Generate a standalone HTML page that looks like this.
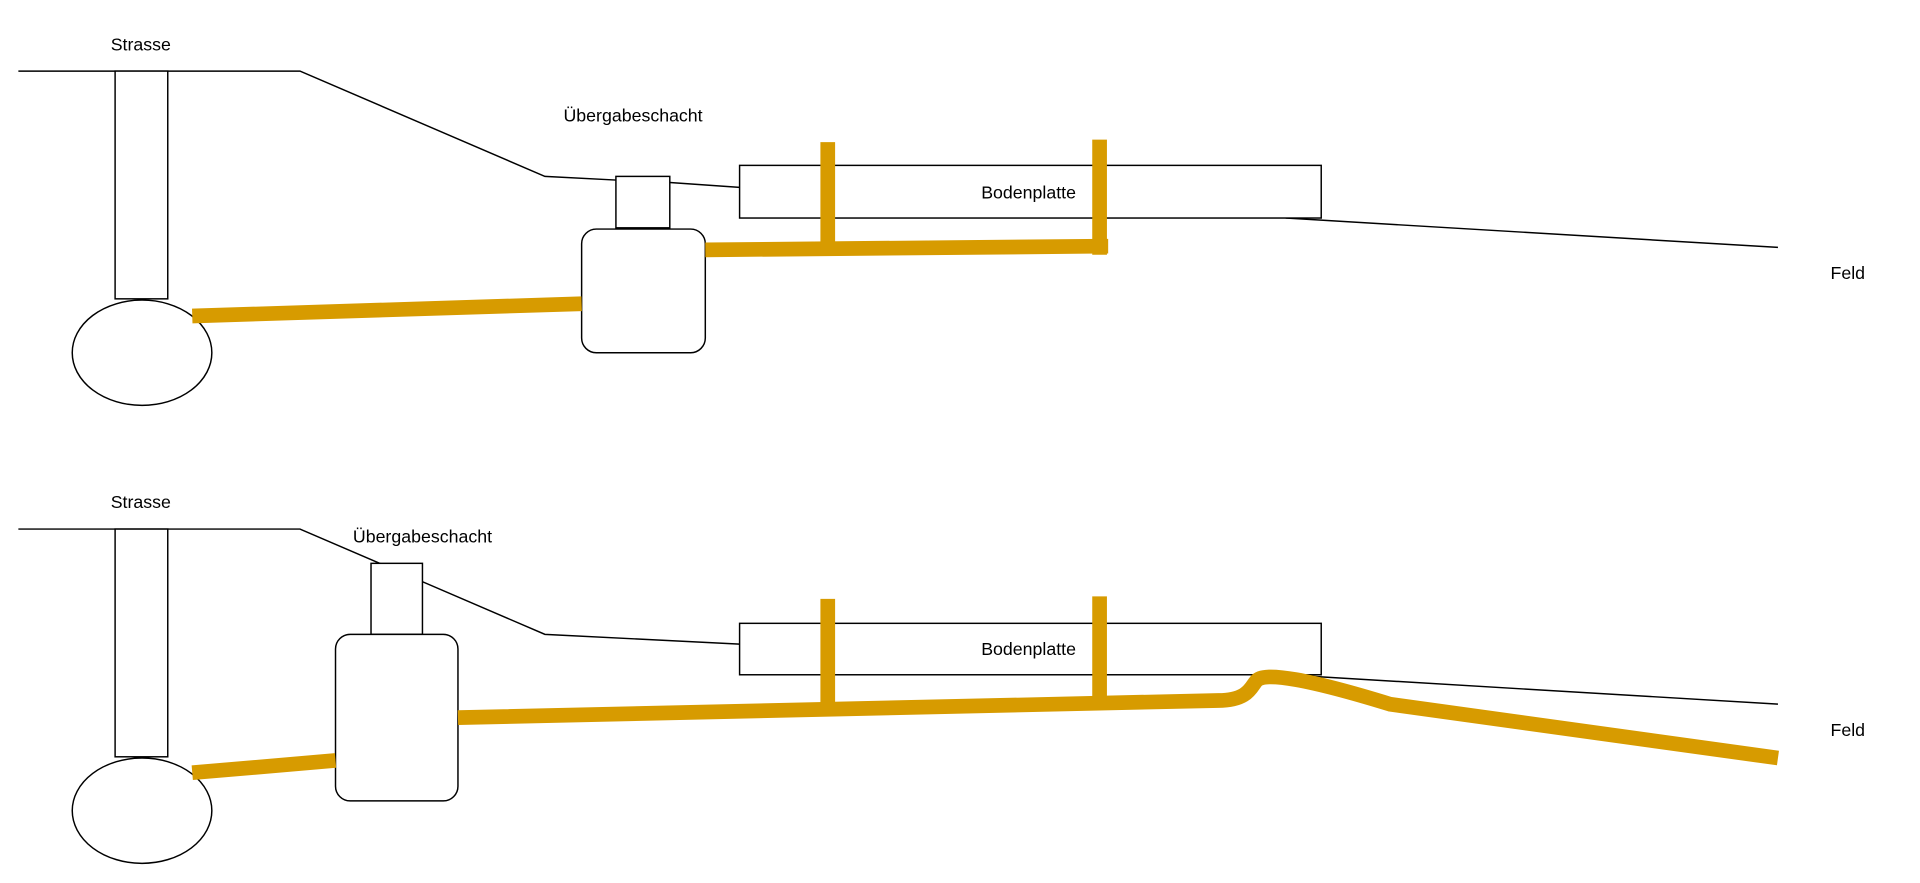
<!DOCTYPE html>
<html><head><meta charset="utf-8"><style>html,body{margin:0;padding:0;background:#fff;}svg{display:block}</style></head>
<body>
<svg width="1920" height="883" viewBox="0 0 1568 721" xmlns="http://www.w3.org/2000/svg" font-family="Liberation Sans, sans-serif" font-size="14.5">
<rect width="1568" height="721" fill="#fff"/>
<g fill="none" stroke="#000" stroke-width="1.2">
<!-- top -->
<polyline points="15,58 245,58 445,144 503,147"/>
<line x1="547" y1="149" x2="604" y2="153"/>
<line x1="1050" y1="178" x2="1452" y2="202"/>
<!-- bottom -->
<polyline points="15,432 245,432 445,518 604,526"/>
<line x1="1050" y1="551" x2="1452" y2="575"/>
</g>
<g fill="#fff" stroke="#000" stroke-width="1.2">
<rect x="94" y="58" width="43" height="186"/>
<ellipse cx="116" cy="288" rx="57" ry="43"/>
<rect x="503" y="144" width="44" height="42"/>
<rect x="475" y="187" width="101" height="101" rx="12"/>
<rect x="604" y="135" width="475" height="43"/>
<rect x="94" y="432" width="43" height="186"/>
<ellipse cx="116" cy="662" rx="57" ry="43"/>
<rect x="303" y="460" width="42" height="58"/>
<rect x="274" y="518" width="100" height="136" rx="12"/>
<rect x="604" y="509" width="475" height="42"/>
</g>
<g fill="none" stroke="#d79b00" stroke-width="12">
<line x1="157" y1="258" x2="475" y2="248"/>
<polyline points="576,204 899,201 905,201"/>
<line x1="676" y1="116" x2="676" y2="204"/>
<line x1="898" y1="114" x2="898" y2="208"/>
<line x1="157" y1="631" x2="274" y2="621"/>
<path d="M374,586 L995,572 C1020,572 1022,560 1026,556 C1032,548 1070,555 1135,575 L1452,619"/>
<line x1="676" y1="489" x2="676" y2="578"/>
<line x1="898" y1="487" x2="898" y2="573"/>
</g>
<g fill="#000">
<text x="115" y="41" text-anchor="middle">Strasse</text>
<text x="517" y="99" text-anchor="middle">Übergabeschacht</text>
<text x="840" y="162" text-anchor="middle">Bodenplatte</text>
<text x="1509" y="228" text-anchor="middle">Feld</text>
<text x="115" y="415" text-anchor="middle">Strasse</text>
<text x="345" y="443" text-anchor="middle">Übergabeschacht</text>
<text x="840" y="535" text-anchor="middle">Bodenplatte</text>
<text x="1509" y="601" text-anchor="middle">Feld</text>
</g>
</svg>
</body></html>
